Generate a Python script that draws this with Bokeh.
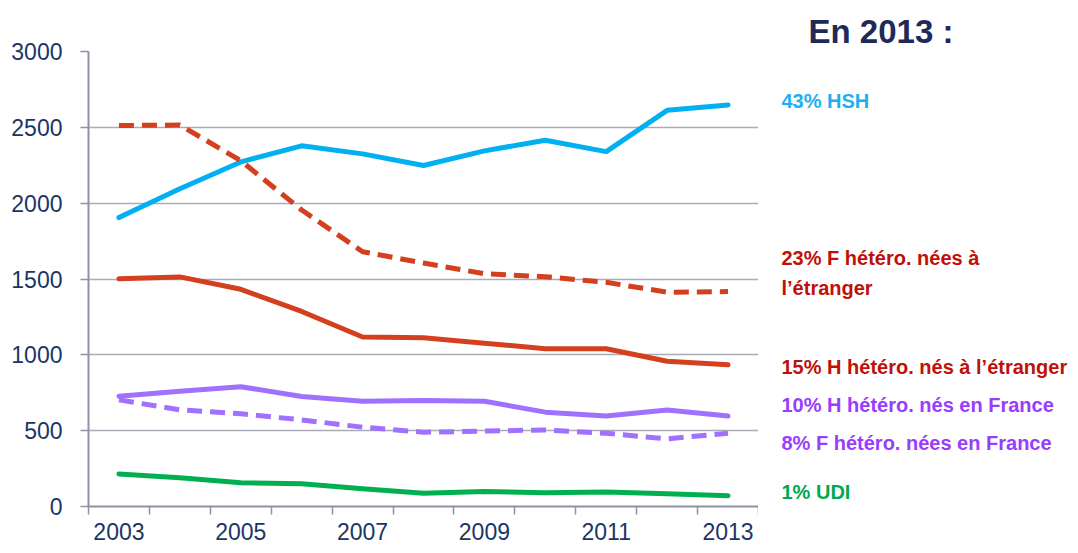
from bokeh.plotting import figure
from bokeh.models import Range1d, FixedTicker
from bokeh.layouts import row
from bokeh.core.properties import value
from bokeh.embed import file_html
from bokeh.resources import INLINE

years = [2003, 2004, 2005, 2006, 2007, 2008, 2009, 2010, 2011, 2012, 2013]
hsh = [1905, 2095, 2272, 2378, 2325, 2248, 2345, 2415, 2340, 2612, 2648]
f_etr = [2512, 2515, 2280, 1955, 1680, 1605, 1535, 1515, 1478, 1413, 1417]
h_etr = [1501, 1514, 1432, 1286, 1118, 1112, 1077, 1040, 1040, 958, 934]
h_fr = [727, 760, 790, 725, 694, 699, 694, 622, 596, 637, 596]
f_fr = [703, 637, 611, 571, 523, 490, 497, 505, 483, 446, 483]
udi = [215, 189, 156, 150, 117, 88, 99, 90, 95, 84, 71]

tick_years = [2003, 2005, 2007, 2009, 2011, 2013]
y_ticks = [0, 500, 1000, 1500, 2000, 2500, 3000]

title_text = "En 2013 :"
label_texts = ["43% HSH", "23% F hétéro. nées à", "l’étranger",
               "15% H hétéro. nés à l’étranger", "10% H hétéro. nés en France",
               "8% F hétéro. nées en France", "1% UDI"]
label_colors = ["#1DAFEF", "#C0100A", "#C0100A", "#C0100A", "#9A3CFF", "#9A3CFF", "#00A84F"]
# vertical positions of the side labels (page pixels)
label_rows = [100, 257, 287, 366, 404, 442, 491]

FONT = "Liberation Sans"
NAVY = "#1B3566"
AXIS_GREY = "#8E92A2"

p = figure(frame_width=670, frame_height=455, output_backend="svg", toolbar_location=None,
           x_range=Range1d(2002.5, 2013.5), y_range=Range1d(0, 3000),
           min_border_left=88, min_border_right=0, min_border_top=51, min_border_bottom=40)
p.outline_line_color = None

p.xaxis.ticker = FixedTicker(ticks=tick_years, minor_ticks=[y + 0.5 for y in range(2002, 2014)])
p.xaxis.major_tick_line_color = None
p.xaxis.minor_tick_out = 8
p.xaxis.minor_tick_in = 0
p.xaxis.minor_tick_line_color = AXIS_GREY
p.xaxis.minor_tick_line_width = 1.5
p.yaxis.ticker = FixedTicker(ticks=y_ticks)
p.yaxis.minor_tick_line_color = None
p.yaxis.major_tick_out = 8
p.yaxis.major_tick_in = 0
p.yaxis.major_tick_line_color = AXIS_GREY
p.yaxis.major_tick_line_width = 1.5
for ax in (p.xaxis, p.yaxis):
    ax.axis_line_color = AXIS_GREY
    ax.axis_line_width = 2
    ax.major_label_text_font = FONT
    ax.major_label_text_font_size = "23px"
    ax.major_label_text_color = NAVY
p.yaxis.major_label_standoff = 18
p.xaxis.major_label_standoff = 8
p.xgrid.grid_line_color = None
p.ygrid.grid_line_color = "#A9ABB6"
p.ygrid.grid_line_width = 1.5

p.line(years, hsh, line_color="#00B0F0", line_width=5, line_join="round", line_cap="round")
p.line(years, f_etr, line_color="#D4401E", line_width=5, line_dash="15 8", line_join="round")
p.line(years, h_etr, line_color="#D4401E", line_width=5, line_join="round", line_cap="round")
p.line(years, h_fr, line_color="#A070FF", line_width=5, line_join="round", line_cap="round")
p.line(years, f_fr, line_color="#A070FF", line_width=5, line_dash="15 8", line_join="round")
p.line(years, udi, line_color="#00B050", line_width=5, line_join="round", line_cap="round")

# side panel for the "En 2013" labels; its frame is aligned with the main frame
# (top at page y 51, bottom at 506), so the y range maps straight to page pixels
side_w = 1078 - 758
p2 = figure(width=side_w, height=547, output_backend="svg", toolbar_location=None,
            x_range=Range1d(758, 1078), y_range=Range1d(506, 51),
            x_axis_type=None, y_axis_type=None, min_border=0, min_border_top=51)
p2.outline_line_color = None
p2.grid.visible = False
p2.title.text = title_text
p2.title.text_font = FONT
p2.title.text_font_style = "bold"
p2.title.text_font_size = "33px"
p2.title.text_color = "#1F2A56"
p2.title.align = "left"
p2.title.offset = 50
p2.title.standoff = 3

p2.text(x=[781] * len(label_texts), y=label_rows, text=label_texts, text_font=value(FONT),
        text_font_style="bold", text_font_size="20px", text_color=label_colors,
        text_baseline="middle")

layout = row(p, p2)
open("out.html", "w").write(file_html(layout, INLINE))
